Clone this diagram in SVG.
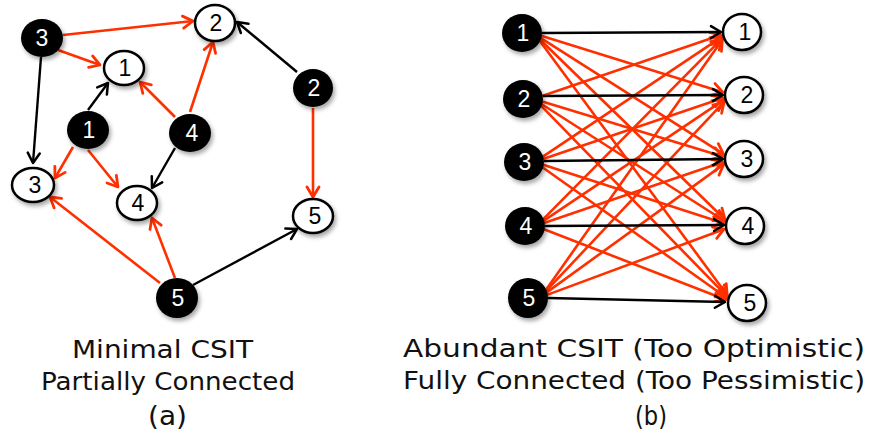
<svg xmlns="http://www.w3.org/2000/svg" width="871" height="444" viewBox="0 0 871 444">
<style>
.bn{fill:#000;filter:url(#sh)}
.wn{fill:#fff;stroke:#000;stroke-width:2.5;filter:url(#sh)}
.bt{fill:#fff;font-family:"Liberation Sans",Arial,sans-serif;font-size:23px;text-anchor:middle}
.wt{fill:#000;font-family:"Liberation Sans",Arial,sans-serif;font-size:23px;text-anchor:middle}
.r{stroke:#ff3000;stroke-width:2.6;fill:none;marker-end:url(#ar)}
.k{stroke:#000;stroke-width:2.4;fill:none;marker-end:url(#ak)}
.cap{font-family:"DejaVu Sans",sans-serif;font-size:24px;fill:#111}
</style>
<defs>
<filter id="sh" x="-30%" y="-30%" width="170%" height="170%">
<feDropShadow dx="2" dy="3" stdDeviation="2" flood-color="#000" flood-opacity="0.35"/>
</filter>
<marker id="ar" markerUnits="userSpaceOnUse" viewBox="-14 -9 16 18" refX="0" refY="0" markerWidth="16" markerHeight="18" orient="auto">
<path d="M-10,-6 L0,0 L-10,6" fill="none" stroke="#ff3000" stroke-width="2.8" stroke-linecap="round" stroke-linejoin="round"/>
</marker>
<marker id="ak" markerUnits="userSpaceOnUse" viewBox="-14 -9 16 18" refX="0" refY="0" markerWidth="16" markerHeight="18" orient="auto">
<path d="M-10,-6 L0,0 L-10,6" fill="none" stroke="#000" stroke-width="2.5" stroke-linecap="round" stroke-linejoin="round"/>
</marker>
</defs>

<g id="connectors">
<!-- left panel -->
<line class="r" x1="63" y1="35" x2="193" y2="21"/>
<line class="r" x1="58" y1="50" x2="100" y2="65"/>
<line class="k" x1="41" y1="57" x2="33" y2="163"/>
<line class="k" x1="88" y1="110" x2="108" y2="83"/>
<line class="r" x1="73" y1="147" x2="55" y2="178"/>
<line class="r" x1="88" y1="150" x2="118" y2="187"/>
<line class="r" x1="175" y1="117" x2="140" y2="82"/>
<line class="r" x1="190" y1="112" x2="213" y2="42"/>
<line class="k" x1="175" y1="148" x2="152" y2="188"/>
<line class="k" x1="297" y1="72" x2="237" y2="22"/>
<line class="r" x1="313" y1="108" x2="313" y2="197"/>
<line class="r" x1="160" y1="283" x2="50" y2="197"/>
<line class="r" x1="175" y1="278" x2="152" y2="218"/>
<line class="k" x1="193" y1="285" x2="297" y2="229"/>
<!-- right panel red -->
<line class="r" x1="541.2" y1="35.7" x2="722.8" y2="92.3"/>
<line class="r" x1="540.5" y1="37.9" x2="723.5" y2="154.1"/>
<line class="r" x1="540" y1="39.5" x2="725" y2="219.5"/>
<line class="r" x1="539.7" y1="40.7" x2="727.3" y2="295.3"/>
<line class="r" x1="542.1" y1="96.1" x2="720.9" y2="34.9"/>
<line class="r" x1="542.2" y1="101.6" x2="722.8" y2="156.4"/>
<line class="r" x1="541.5" y1="104" x2="724.5" y2="221"/>
<line class="r" x1="541" y1="105.7" x2="727" y2="296.3"/>
<line class="r" x1="542.5" y1="156.9" x2="721.5" y2="37.1"/>
<line class="r" x1="543.1" y1="159.1" x2="722.9" y2="97.9"/>
<line class="r" x1="543.2" y1="164.8" x2="723.8" y2="223.2"/>
<line class="r" x1="542.4" y1="167.3" x2="726.6" y2="297.7"/>
<line class="r" x1="543" y1="219.3" x2="722" y2="38.7"/>
<line class="r" x1="543.5" y1="220.9" x2="723.5" y2="100.1"/>
<line class="r" x1="544.1" y1="223.1" x2="722.9" y2="161.9"/>
<line class="r" x1="544" y1="229.3" x2="726" y2="299.7"/>
<line class="r" x1="545.7" y1="290.2" x2="722.3" y2="39.8"/>
<line class="r" x1="545.9" y1="291.2" x2="724.1" y2="101.9"/>
<line class="r" x1="546.4" y1="292.6" x2="723.6" y2="164.4"/>
<line class="r" x1="547.1" y1="294.9" x2="724" y2="229.2"/>
<!-- right panel black -->
<line class="k" x1="542" y1="33" x2="721" y2="32"/>
<line class="k" x1="543" y1="96" x2="723" y2="95"/>
<line class="k" x1="544" y1="161" x2="723" y2="159"/>
<line class="k" x1="545" y1="226" x2="724" y2="225"/>
<line class="k" x1="548" y1="298" x2="725" y2="302"/>
</g>

<!-- left panel nodes -->
<g id="a-tx3"><ellipse class="bn" cx="42" cy="38" rx="21" ry="19"/><text class="bt" x="42" y="46">3</text></g>
<g id="a-rx2"><ellipse class="wn" cx="215" cy="23" rx="20" ry="18"/><text class="wt" x="216" y="31">2</text></g>
<g id="a-rx1"><ellipse class="wn" cx="124" cy="68" rx="20" ry="17"/><text class="wt" x="125" y="76">1</text></g>
<g id="a-tx2"><ellipse class="bn" cx="313" cy="88" rx="20" ry="19"/><text class="bt" x="314" y="96">2</text></g>
<g id="a-tx1"><ellipse class="bn" cx="88" cy="130" rx="21" ry="19"/><text class="bt" x="89" y="138">1</text></g>
<g id="a-tx4"><ellipse class="bn" cx="190" cy="133" rx="21" ry="19"/><text class="bt" x="192" y="141">4</text></g>
<g id="a-rx3"><ellipse class="wn" cx="33" cy="185" rx="21" ry="17"/><text class="wt" x="35" y="193">3</text></g>
<g id="a-rx4"><ellipse class="wn" cx="137" cy="203" rx="20" ry="17"/><text class="wt" x="138" y="211">4</text></g>
<g id="a-rx5"><ellipse class="wn" cx="313" cy="216" rx="20" ry="17"/><text class="wt" x="315" y="224">5</text></g>
<g id="a-tx5"><ellipse class="bn" cx="177" cy="298" rx="21" ry="20"/><text class="bt" x="178" y="306">5</text></g>

<!-- right panel nodes -->
<g id="b-tx1"><ellipse class="bn" cx="522" cy="33" rx="20" ry="19"/><text class="bt" x="523" y="41">1</text></g>
<g id="b-tx2"><ellipse class="bn" cx="523" cy="99" rx="20" ry="19"/><text class="bt" x="524" y="107">2</text></g>
<g id="b-tx3"><ellipse class="bn" cx="524" cy="162" rx="20" ry="19"/><text class="bt" x="525" y="170">3</text></g>
<g id="b-tx4"><ellipse class="bn" cx="525" cy="226" rx="20" ry="19"/><text class="bt" x="526" y="234">4</text></g>
<g id="b-tx5"><ellipse class="bn" cx="528" cy="298" rx="20" ry="20"/><text class="bt" x="529" y="306">5</text></g>
<g id="b-rx1"><ellipse class="wn" cx="742" cy="32" rx="19" ry="18"/><text class="wt" x="745" y="40">1</text></g>
<g id="b-rx2"><ellipse class="wn" cx="744" cy="95" rx="19" ry="18"/><text class="wt" x="747" y="103">2</text></g>
<g id="b-rx3"><ellipse class="wn" cx="744" cy="159" rx="19" ry="18"/><text class="wt" x="747" y="167">3</text></g>
<g id="b-rx4"><ellipse class="wn" cx="745" cy="226" rx="19" ry="18"/><text class="wt" x="748" y="234">4</text></g>
<g id="b-rx5"><ellipse class="wn" cx="747" cy="303" rx="19" ry="18"/><text class="wt" x="750" y="311">5</text></g>

<!-- captions -->
<g id="captions">
<text class="cap" x="72" y="358" textLength="181" lengthAdjust="spacingAndGlyphs">Minimal CSIT</text>
<text class="cap" x="41" y="390" textLength="254" lengthAdjust="spacingAndGlyphs">Partially Connected</text>
<text class="cap" x="148" y="425" textLength="39" lengthAdjust="spacingAndGlyphs" style="font-size:26px">(a)</text>
<text class="cap" x="403" y="357" textLength="462" lengthAdjust="spacingAndGlyphs">Abundant CSIT (Too Optimistic)</text>
<text class="cap" x="403" y="389" textLength="462" lengthAdjust="spacingAndGlyphs">Fully Connected (Too Pessimistic)</text>
<text class="cap" x="635" y="425" textLength="32" lengthAdjust="spacingAndGlyphs" style="font-size:26px">(b)</text>
</g>
</svg>
